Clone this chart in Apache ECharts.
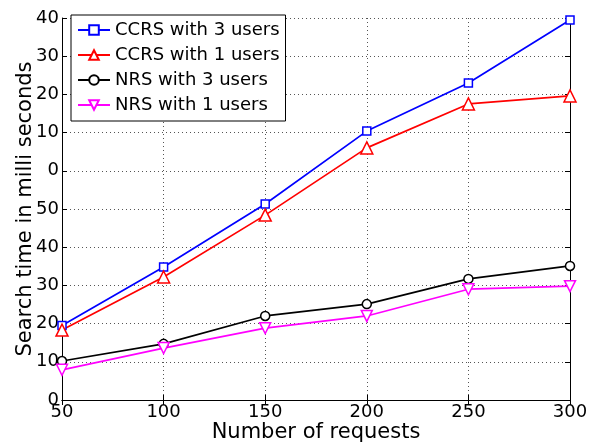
<!DOCTYPE html>
<html><head><meta charset="utf-8">
<script src="https://cdn.jsdelivr.net/npm/echarts@6/dist/echarts.min.js"></script>
<style>html,body{margin:0;padding:0;background:#fff}#c{width:596px;height:445px}</style>
</head><body><div id="c"></div>
<script>
const categories = [50, 100, 150, 200, 250, 300];
const ccrs3 = [19.5, 34.8, 51.3, 70.4, 83.0, 99.5];
const ccrs1 = [18.3, 32.2, 48.4, 66.0, 77.5, 79.6];
const nrs3 = [10.2, 14.7, 22.0, 25.1, 31.7, 35.1];
const nrs1 = [7.9, 13.6, 18.8, 22.0, 29.0, 29.8];
const yTickLabels = ['0','10','20','30','40','50','0','10','20','30','40'];
const xTickLabels = ['50','100','150','200','250','300'];

const font = 'DejaVu Sans';
const chart = echarts.init(document.getElementById('c'));
function pairs(arr){ return categories.map((x,i)=>[x,arr[i]]); }
function mk(name, data, color, symbol, size, fill){
  return {name, type:'line', data:pairs(data), symbol, symbolSize:size, showAllSymbol:true,
    clip:false, lineStyle:{color, width:1.7}, itemStyle:{color: fill||'#fff', borderColor:color, borderWidth:1.5},
    emphasis:{disabled:true}, animation:false};
}
const invTri = 'path://M0,0 L10,0 L5,9 Z';
chart.setOption({
  animation:false,
  textStyle:{fontFamily:font},
  grid:{left:62, right:26, top:18, bottom:45, containLabel:false, outerBoundsMode:'none'},
  legend:{
    orient:'vertical', left:71, top:15, backgroundColor:'#fff',
    borderColor:'#000', borderWidth:1, padding:[6,6,7,6], itemGap:7,
    itemWidth:32, itemHeight:12,
    textStyle:{fontFamily:font, fontSize:18, color:'#000'},
    data:['CCRS with 3 users','CCRS with 1 users','NRS with 3 users','NRS with 1 users']
  },
  xAxis:[{
    type:'value', min:50, max:300, interval:50,
    name:'Number of requests', nameLocation:'middle', nameGap:22, nameMoveOverlap:false,
    nameTextStyle:{fontFamily:font, fontSize:21, color:'#000', verticalAlign:'top'},
    axisLine:{lineStyle:{color:'#000', width:1}},
    axisTick:{inside:true, length:5, lineStyle:{color:'#000'}},
    axisLabel:{fontFamily:font, fontSize:18, color:'#000', margin:3,
      formatter:(v)=>{const i=categories.indexOf(v);return i>=0?xTickLabels[i]:'';}},
    splitLine:{show:true, lineStyle:{color:'#555', type:[1,3], width:1}}
  },{
    type:'value', min:50, max:300, interval:50, position:'top',
    axisLine:{lineStyle:{color:'#000'}}, axisTick:{inside:true,length:5,lineStyle:{color:'#000'}},
    axisLabel:{show:false}, splitLine:{show:false}
  }],
  yAxis:[{
    type:'value', min:0, max:100, interval:10,
    name:'Search time in milli seconds', nameLocation:'middle', nameGap:26, nameMoveOverlap:false,
    nameTextStyle:{fontFamily:font, fontSize:21, color:'#000'},
    axisLine:{show:true, lineStyle:{color:'#000', width:1}},
    axisTick:{show:true, inside:true, length:5, lineStyle:{color:'#000'}},
    axisLabel:{fontFamily:font, fontSize:18, color:'#000', margin:3,
      formatter:(v)=>yTickLabels[Math.round(v/10)]},
    splitLine:{show:true, lineStyle:{color:'#555', type:[1,3], width:1}}
  },{
    type:'value', min:0, max:100, interval:10, position:'right',
    axisLine:{show:true, lineStyle:{color:'#000'}}, axisTick:{show:true, inside:true,length:5,lineStyle:{color:'#000'}},
    axisLabel:{show:false}, splitLine:{show:false}
  }],
  series:[
    mk('CCRS with 3 users', ccrs3, '#0000ff', 'rect', 8),
    mk('CCRS with 1 users', ccrs1, '#ff0000', 'triangle', 12),
    mk('NRS with 3 users', nrs3, '#000000', 'circle', 9),
    mk('NRS with 1 users', nrs1, '#ff00ff', invTri, 11)
  ]
});
</script></body></html>
